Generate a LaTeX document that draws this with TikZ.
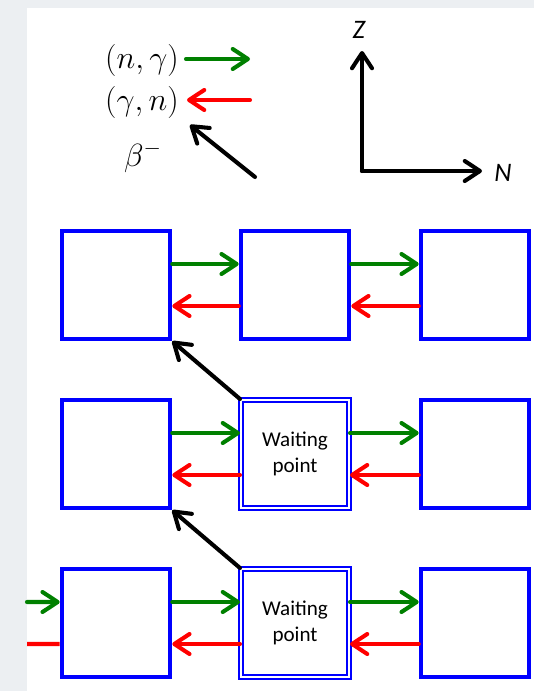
\documentclass[tikz,border=0pt]{standalone}
\usepackage[no-math]{fontspec}
\setmainfont{Carlito}
\usepackage{xcolor}
\usepackage{tikz}
\usetikzlibrary{positioning, arrows.meta}

\definecolor{bggray}{RGB}{236,239,242}
\definecolor{ngreen}{RGB}{0,128,0}

\begin{document}
\begin{tikzpicture}[x=0.025cm, y=-0.025cm,
    >={Straight Barb[length=3.8mm, width=5mm, round]},
    nbox/.style={draw=blue, line width=3.2pt, minimum size=2.7cm, inner sep=0pt},
    wbox/.style={draw=blue, double=white, double distance=2.1pt, line width=1.4pt,
        minimum size=2.7cm, inner sep=0pt, align=center,
        font=\fontsize{15}{18}\selectfont},
    ngam/.style={->, draw=ngreen, line width=2.9pt, line cap=round},
    gamn/.style={->, draw=red, line width=2.9pt, line cap=round},
    beta/.style={->, draw=black, line width=2.9pt, line cap=round},
    lbl/.style={font=\fontsize{20}{24}\selectfont, scale=1.1}]
    % Background
    \useasboundingbox (0,0) rectangle (534,691);
    \fill[bggray] (0,0) rectangle (534,691);
    \fill[white] (27,8) rectangle (534,691);

    % Legend
    \node[lbl] (ng) at (142,60) {$(n,\gamma)$};
    \node[lbl] (gn) at (142,102) {$(\gamma,n)$};
    \node[lbl] (bm) at (143,157) {$\beta^{-}$};
    \coordinate (ng1) at (186,59);
    \coordinate (ng2) at (250,59);
    \coordinate (gn1) at (250,100);
    \coordinate (gn2) at (187,100);
    \coordinate (bm1) at (255,177);
    \coordinate (bm2) at (190,125);
    \draw[ngam] (ng1) -- (ng2);
    \draw[gamn] (gn1) -- (gn2);
    \draw[beta] (bm1) -- (bm2);

    % Axes
    \coordinate (O) at (362,171);
    \coordinate (zt) at (362,51);
    \coordinate (nt) at (482,171);
    \draw[beta] (O) -- (zt);
    \draw[beta] (O) -- (nt);
    \node[font=\fontsize{19}{22}\selectfont\itshape] (Z) at (359,30) {Z};
    \node[font=\fontsize{19}{22}\selectfont\itshape] (N) at (503,173) {N};

    % Nuclei
    \node[nbox] (a1) at (116,285) {};
    \node[nbox] (b1) at (295,285) {};
    \node[nbox] (c1) at (475,285) {};
    \node[nbox] (a2) at (116,454) {};
    \node[wbox] (b2) at (295,454) {Waiting\\point};
    \node[nbox] (c2) at (475,454) {};
    \node[nbox] (a3) at (116,623) {};
    \node[wbox] (b3) at (295,623) {Waiting\\point};
    \node[nbox] (c3) at (475,623) {};

    % Neutron capture
    \draw[ngam] ([yshift=0.525cm]a1.east) -- ([yshift=0.525cm]b1.west);
    \draw[ngam] ([yshift=0.525cm]b1.east) -- ([yshift=0.525cm]c1.west);
    \draw[ngam] ([yshift=0.525cm]a2.east) -- ([yshift=0.525cm]b2.west);
    \draw[ngam] ([yshift=0.525cm]b2.east) -- ([yshift=0.525cm]c2.west);
    \draw[ngam] ([yshift=0.525cm]a3.east) -- ([yshift=0.525cm]b3.west);
    \draw[ngam] ([yshift=0.525cm]b3.east) -- ([yshift=0.525cm]c3.west);

    % Photodisintegration
    \draw[gamn] ([yshift=-0.525cm]b1.west) -- ([yshift=-0.525cm]a1.east);
    \draw[gamn] ([yshift=-0.525cm]c1.west) -- ([yshift=-0.525cm]b1.east);
    \draw[gamn] ([yshift=-0.525cm]b2.west) -- ([yshift=-0.525cm]a2.east);
    \draw[gamn] ([yshift=-0.525cm]c2.west) -- ([yshift=-0.525cm]b2.east);
    \draw[gamn] ([yshift=-0.525cm]b3.west) -- ([yshift=-0.525cm]a3.east);
    \draw[gamn] ([yshift=-0.525cm]c3.west) -- ([yshift=-0.525cm]b3.east);

    % Incoming flow
    \coordinate (in3g) at (27,602);
    \coordinate (in3r) at (27,644);
    \draw[ngam] (in3g) -- ([yshift=0.525cm]a3.west);
    \draw[draw=red, line width=2.9pt] ([yshift=-0.525cm]a3.west) -- (in3r);

    % Beta decays
    \draw[beta] (b2.north west) -- (a1.south east);
    \draw[beta] (b3.north west) -- (a2.south east);
\end{tikzpicture}
\end{document}
